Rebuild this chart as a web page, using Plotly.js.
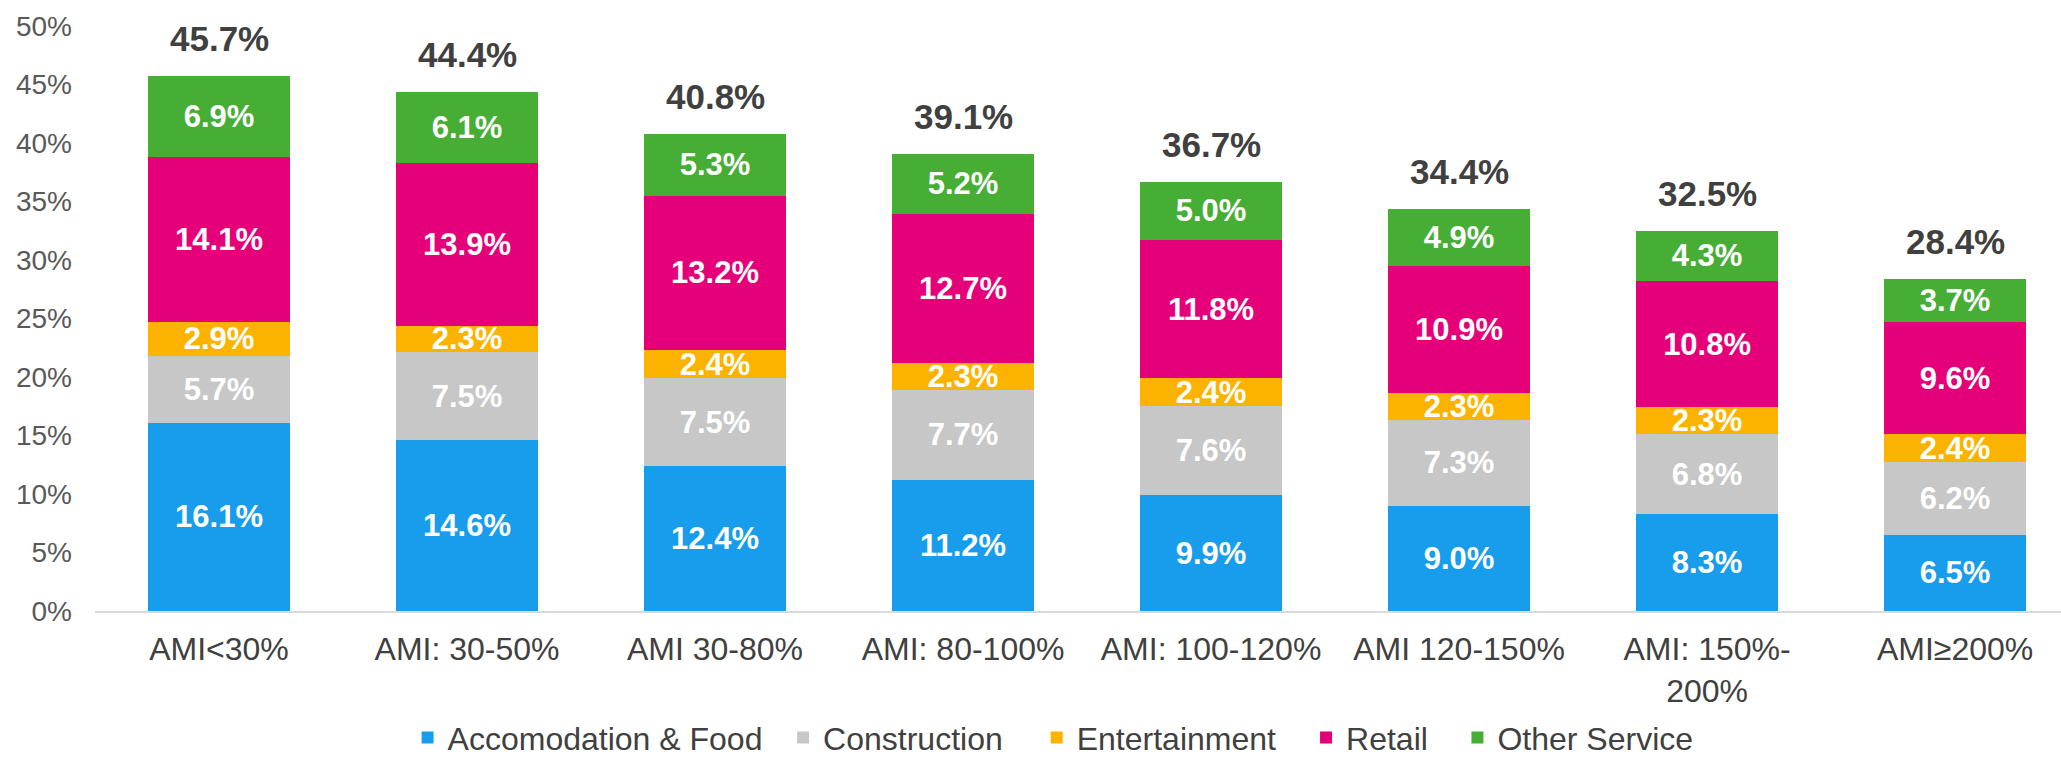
<!DOCTYPE html>
<html>
<head>
<meta charset="utf-8">
<script src="https://cdn.plot.ly/plotly-3.0.1.min.js"></script>
<style>
  html, body { margin: 0; padding: 0; background: #ffffff; }
  #chart { width: 2061px; height: 757px; }
</style>
</head>
<body>
<div id="chart"></div>
<script>
// ---- data ----
const categories = ["AMI<30%", "AMI: 30-50%", "AMI 30-80%", "AMI: 80-100%", "AMI: 100-120%", "AMI 120-150%", "AMI: 150%-<br>200%", "AMI≥200%"];
const seriesNames = ["Accomodation & Food", "Construction", "Entertainment", "Retail", "Other Service"];
const accomodationFood = [16.1, 14.6, 12.4, 11.2, 9.9, 9.0, 8.3, 6.5];
const construction     = [5.7, 7.5, 7.5, 7.7, 7.6, 7.3, 6.8, 6.2];
const entertainment    = [2.9, 2.3, 2.4, 2.3, 2.4, 2.3, 2.3, 2.4];
const retail           = [14.1, 13.9, 13.2, 12.7, 11.8, 10.9, 10.8, 9.6];
const otherService     = [6.9, 6.1, 5.3, 5.2, 5.0, 4.9, 4.3, 3.7];
const totals           = [45.7, 44.4, 40.8, 39.1, 36.7, 34.4, 32.5, 28.4];
const yTickVals = [0, 5, 10, 15, 20, 25, 30, 35, 40, 45, 50];
const yTickText = ["0%", "5%", "10%", "15%", "20%", "25%", "30%", "35%", "40%", "45%", "50%"];

// ---- styles ----
const colors = ["#179DEB", "#C7C7C7", "#FCB300", "#E5007A", "#46AE35"];
const seriesValues = [accomodationFood, construction, entertainment, retail, otherService];
const FONT = "'Liberation Sans', Arial, sans-serif";
const legendNames = ["legend", "legend2", "legend3", "legend4", "legend5"];
const legendX = [0.159, 0.350, 0.479, 0.616, 0.693];

const traces = seriesValues.map((vals, i) => ({
  type: "bar",
  name: seriesNames[i],
  x: categories,
  y: vals,
  legend: legendNames[i],
  marker: { color: colors[i], line: { width: 0 } },
  texttemplate: "%{y:.1f}%",
  textposition: "inside",
  insidetextanchor: "middle",
  constraintext: "none",
  textangle: 0,
  textfont: { family: FONT, size: 31, color: "#FFFFFF", weight: "bold" },
  hoverinfo: "x+y+name"
}));

const annotations = categories.map((c, i) => ({
  x: c,
  y: totals[i],
  xref: "x",
  yref: "y",
  text: "<b>" + totals[i].toFixed(1) + "%</b>",
  showarrow: false,
  yanchor: "bottom",
  yshift: 16,
  font: { family: FONT, size: 35, color: "#404040" }
}));

const layout = {
  width: 2061,
  height: 757,
  paper_bgcolor: "#FFFFFF",
  plot_bgcolor: "#FFFFFF",
  margin: { l: 95, r: 0, t: 26, b: 146, autoexpand: false },
  barmode: "stack",
  bargap: 0.427,
  font: { family: FONT, color: "#404040" },
  xaxis: {
    type: "category",
    range: [-0.5, 7.427],
    showgrid: false,
    zeroline: false,
    showline: true,
    linecolor: "#D9D9D9",
    linewidth: 2,
    ticks: "",
    ticklabelstandoff: 9,
    tickfont: { family: FONT, size: 32, color: "#404040" }
  },
  yaxis: {
    range: [0, 50],
    tickvals: yTickVals,
    ticktext: yTickText,
    showgrid: false,
    zeroline: false,
    showline: false,
    ticks: "",
    ticklabelstandoff: 22,
    tickfont: { family: FONT, size: 28, color: "#595959" }
  },
  annotations: annotations,
  showlegend: true
};
legendNames.forEach((ln, i) => {
  layout[ln] = {
    orientation: "h",
    x: legendX[i],
    xanchor: "left",
    y: -0.1695,
    yanchor: "top",
    bgcolor: "rgba(0,0,0,0)",
    borderwidth: 0,
    font: { family: FONT, size: 32, color: "#404040" },
    itemclick: false,
    itemdoubleclick: false
  };
});

Plotly.newPlot("chart", traces, layout, { displayModeBar: false, responsive: false });
</script>
</body>
</html>
